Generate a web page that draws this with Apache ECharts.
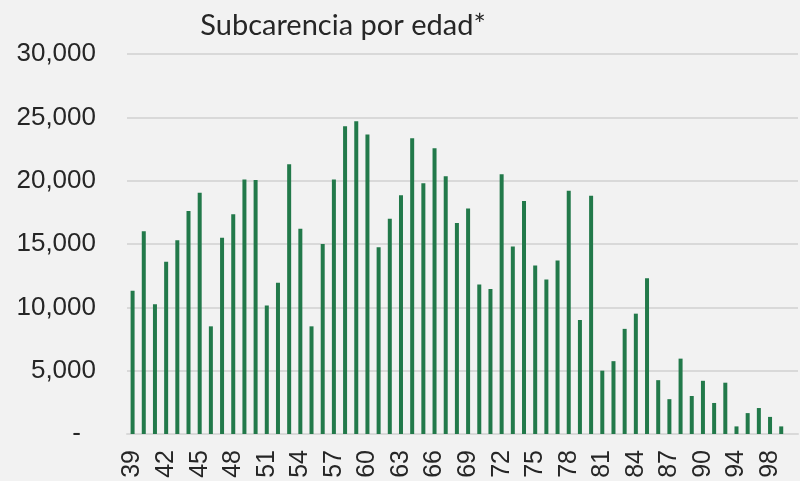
<!DOCTYPE html>
<html>
<head>
<meta charset="utf-8">
<script src="https://cdn.jsdelivr.net/npm/echarts@6/dist/echarts.min.js"></script>
<style>
html,body{margin:0;padding:0;background:#f2f2f2;}
#main{width:800px;height:481px;}
</style>
</head>
<body>
<div id="main"></div>
<script>
var edades = ['39','40','41','42','43','44','45','46','47','48','49','50','51','52','53','54','55','56','57','58',
	'59','60','61','62','63','64','65','66','67','68','69','70','71','72','73','74','75','76','77','78',
	'79','80','81','82','83','84','85','86','87','88','89','90','91','92','94','95','96','98','99'];

var subcarencia = [11300,16000,10250,13600,15300,17600,19050,8500,15500,17350,20100,20050,10150,11950,21300,16200,8500,15000,20100,24300,
	24700,23650,14750,17000,18850,23350,19800,22550,20350,16650,17800,11800,11450,20500,14800,18400,13300,12200,13700,19200,
	9000,18800,5000,5750,8300,9500,12300,4250,2750,5950,3000,4200,2450,4050,600,1650,2050,1350,600];

var yTicks = [0,5000,10000,15000,20000,25000,30000];

var fuente = '"Liberation Sans", Arial, sans-serif';

var myChart = echarts.init(document.getElementById('main'));

var option = {
	backgroundColor:'#f2f2f2',
	animation:false,
	title:{
		text:'Subcarencia por edad*',
		left:338,
		textAlign:'center',
		top:6,
		textStyle:{
			fontFamily:'Lato',
			fontWeight:'normal',
			fontSize:29,
			color:'#262626'
		}
	},
	grid:{
		left:127,
		right:2,
		top:54,
		bottom:47
	},
	xAxis:{
		type:'category',
		data:edades,
		max:edades.length,   // deja un hueco a la derecha como en el original
		axisTick:{show:false},
		axisLine:{
			lineStyle:{color:'#d9d9d9',width:2}
		},
		axisLabel:{
			interval:2,
			rotate:90,
			margin:16,
			fontFamily:fuente,
			fontSize:25,
			color:'#262626'
		}
	},
	yAxis:{
		type:'value',
		min:yTicks[0],
		max:yTicks[yTicks.length-1],
		interval:5000,
		axisLine:{show:false},
		axisTick:{show:false},
		splitLine:{
			lineStyle:{color:'#d9d9d9',width:2}
		},
		axisLabel:{
			margin:31,
			fontFamily:fuente,
			fontSize:26,
			color:'#262626',
			formatter:function(v){
				if(v===0){
					return '{z|-}';
				}
				return v.toLocaleString('en-US');
			},
			rich:{
				z:{
					fontFamily:fuente,
					fontSize:26,
					color:'#262626',
					padding:[0,15,0,0]
				}
			}
		}
	},
	series:[
		{
			type:'bar',
			data:subcarencia,
			barWidth:4,
			itemStyle:{
				color:'#22794a'
			}
		}
	]
};

myChart.setOption(option);
</script>
</body>
</html>
